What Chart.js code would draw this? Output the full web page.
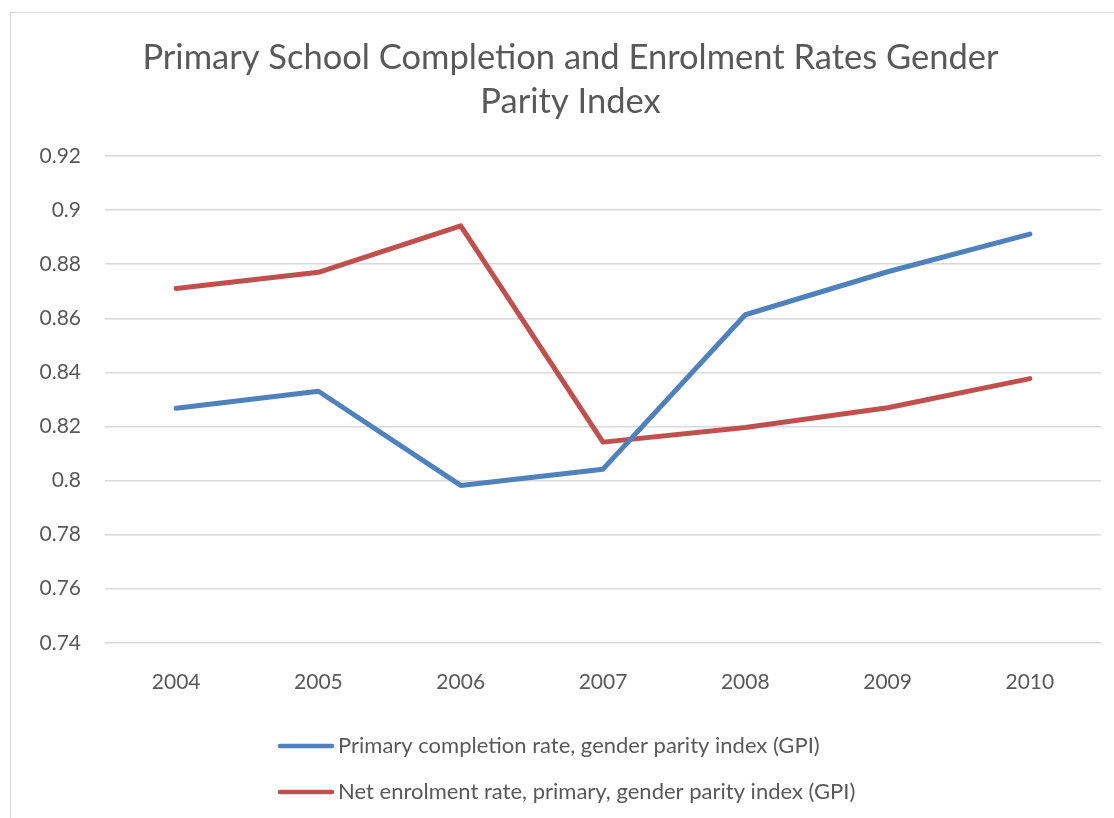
<!DOCTYPE html>
<html>
<head>
<meta charset="utf-8">
<script src="https://cdn.jsdelivr.net/npm/chart.js@4/dist/chart.umd.min.js"></script>
<style>
  html, body { margin: 0; padding: 0; background: #ffffff; overflow: hidden; }
  #frame { position: absolute; left: 10px; top: 12px; width: 1200px; height: 900px; border: 1.5px solid #d9d9d9; box-sizing: border-box; }
  #wrap { position: absolute; left: 0; top: 0; width: 1114px; height: 818px; }
</style>
</head>
<body>
<div id="frame"></div>
<div id="wrap"><canvas id="c" width="1114" height="818"></canvas></div>
<script>
const titleLines = ["Primary School Completion and Enrolment Rates Gender", "Parity Index"];
const years = ["2004", "2005", "2006", "2007", "2008", "2009", "2010"];
const completionLabel = "Primary completion rate, gender parity index (GPI)";
const completionGPI = [0.8267, 0.8330, 0.7982, 0.8042, 0.8613, 0.8772, 0.8911];
const enrolmentLabel = "Net enrolment rate, primary, gender parity index (GPI)";
const enrolmentGPI = [0.8710, 0.8770, 0.8942, 0.8142, 0.8196, 0.8269, 0.8377];
const yMin = 0.74, yMax = 0.92, yStep = 0.02;

const FONT = "Lato, 'Liberation Sans', sans-serif";
const TEXT = "#595959";
const BLUE = "#4f81bd";
const RED = "#c0504d";

const legendPlugin = {
  id: 'leftLegend',
  afterDraw(chart) {
    const ctx = chart.ctx;
    ctx.save();
    ctx.font = "22px " + FONT;
    ctx.fillStyle = TEXT;
    ctx.textBaseline = "middle";
    ctx.lineCap = "round";
    const rows = [746, 792];
    chart.data.datasets.forEach((ds, i) => {
      const y = rows[i];
      ctx.strokeStyle = ds.borderColor;
      ctx.lineWidth = 4.5;
      ctx.beginPath();
      ctx.moveTo(280, y);
      ctx.lineTo(332, y);
      ctx.stroke();
      ctx.fillText(ds.label, 338, y);
    });
    ctx.restore();
  }
};

new Chart(document.getElementById('c'), {
  type: 'line',
  data: {
    labels: years,
    datasets: [
      { label: completionLabel, data: completionGPI, borderColor: BLUE, backgroundColor: BLUE, borderWidth: 5, pointRadius: 0, tension: 0, borderCapStyle: 'round', borderJoinStyle: 'round' },
      { label: enrolmentLabel, data: enrolmentGPI, borderColor: RED, backgroundColor: RED, borderWidth: 5, pointRadius: 0, tension: 0, borderCapStyle: 'round', borderJoinStyle: 'round' }
    ]
  },
  options: {
    responsive: false,
    animation: false,
    events: [],
    layout: { padding: { top: 20, left: 40, right: 13, bottom: 104 } },
    plugins: {
      legend: { display: false },
      tooltip: { enabled: false },
      title: {
        display: true,
        text: titleLines,
        color: TEXT,
        font: { family: FONT, size: 34.5, weight: 'normal', lineHeight: 44 / 34.5 },
        padding: { top: 16, bottom: 32 }
      }
    },
    scales: {
      x: {
        offset: true,
        grid: { display: false },
        border: { display: false },
        ticks: { color: TEXT, font: { family: FONT, size: 21 }, padding: 19, maxRotation: 0 }
      },
      y: {
        min: yMin, max: yMax,
        grid: { color: '#d9d9d9', lineWidth: 1.5, drawTicks: false },
        border: { display: false },
        afterFit(scale) { scale.width = 65; },
        ticks: {
          stepSize: yStep,
          color: TEXT,
          font: { family: FONT, size: 21 },
          padding: 24,
          callback: v => String(Number(v.toFixed(2)))
        }
      }
    }
  },
  plugins: [legendPlugin]
});
</script>
</body>
</html>
